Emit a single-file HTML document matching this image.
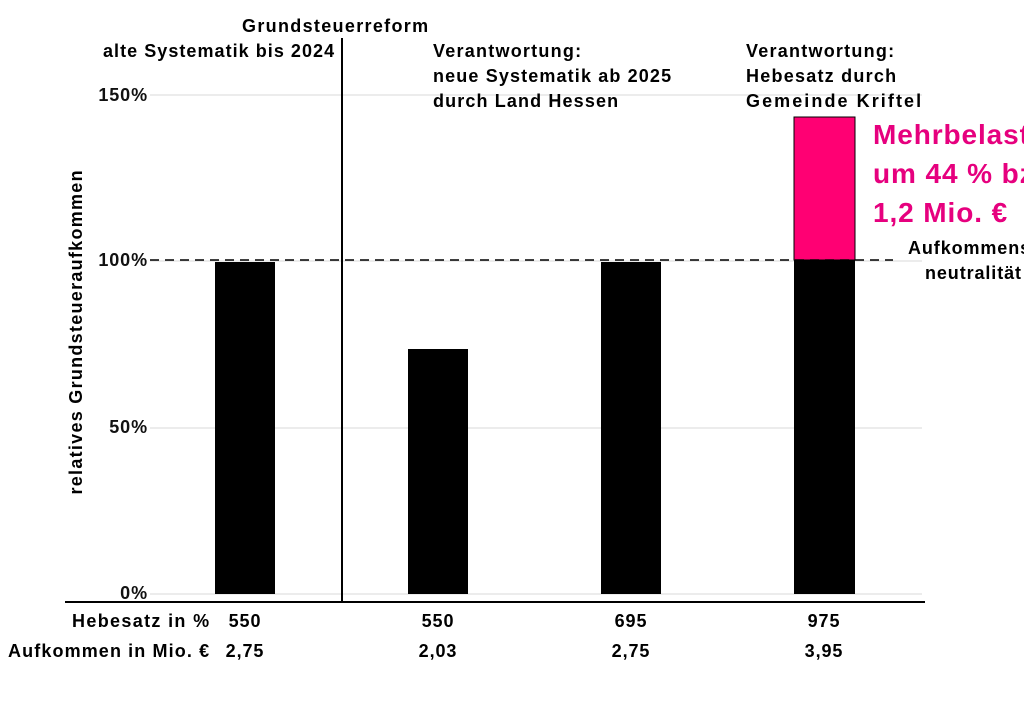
<!DOCTYPE html>
<html><head><meta charset="utf-8"><style>body{margin:0;background:#fff}svg{display:block}text{font-family:"Liberation Sans",sans-serif;font-weight:bold;letter-spacing:0.9px}</style></head><body>
<svg width="1024" height="720" viewBox="0 0 1024 720">
<g stroke="#d9d9d9" stroke-width="1">
<line x1="150" y1="95" x2="922" y2="95"/><line x1="150" y1="428" x2="922" y2="428"/><line x1="150" y1="594" x2="922" y2="594"/><line x1="150" y1="261" x2="922" y2="261"/>
</g>
<rect x="215" y="262" width="60" height="332" fill="#000"/>
<rect x="408" y="349" width="60" height="245" fill="#000"/>
<rect x="601" y="262" width="60" height="332" fill="#000"/>
<rect x="794" y="117" width="61" height="143" fill="#ff0073" stroke="#000" stroke-width="1"/>
<rect x="794" y="260" width="61" height="334" fill="#000"/>
<line x1="150" y1="260" x2="893" y2="260" stroke="#000" stroke-width="1.5" stroke-dasharray="9,6"/>
<line x1="342" y1="38" x2="342" y2="603" stroke="#000" stroke-width="2"/>
<line x1="65" y1="602" x2="925" y2="602" stroke="#000" stroke-width="2"/>
<g font-size="18" text-anchor="end" fill="#111">
<text x="148" y="101">150%</text><text x="148" y="266">100%</text><text x="148" y="433">50%</text><text x="148" y="599">0%</text>
</g>
<text transform="translate(82,332) rotate(-90)" font-size="18" text-anchor="middle" textLength="325">relatives Grundsteueraufkommen</text>
<g font-size="18">
<text x="242" y="32" textLength="187">Grundsteuerreform</text>
<text x="103" y="57" textLength="232">alte Systematik bis 2024</text>
<text x="433" y="57" textLength="149">Verantwortung:</text>
<text x="433" y="82" textLength="239">neue Systematik ab 2025</text>
<text x="433" y="107" textLength="186">durch Land Hessen</text>
<text x="746" y="57" textLength="149">Verantwortung:</text>
<text x="746" y="82" textLength="151">Hebesatz durch</text>
<text x="746" y="107" textLength="176">Gemeinde Kriftel</text>
<text x="908" y="254">Aufkommens-</text>
<text x="925" y="279">neutralität</text>
</g>
<g font-size="28" fill="#e6007e" style="letter-spacing:1.2px">
<text x="873" y="144">Mehrbelastung</text>
<text x="873" y="183">um 44 % bzw.</text>
<text x="873" y="222">1,2 Mio. €</text>
</g>
<g font-size="18">
<text x="72" y="627" textLength="138">Hebesatz in %</text>
<text x="8" y="657" textLength="202">Aufkommen in Mio. €</text>
</g>
<g font-size="18" text-anchor="middle">
<text x="245" y="627">550</text><text x="438" y="627">550</text><text x="631" y="627">695</text><text x="824" y="627">975</text>
<text x="245" y="657">2,75</text><text x="438" y="657">2,03</text><text x="631" y="657">2,75</text><text x="824" y="657">3,95</text>
</g>
</svg>
</body></html>
